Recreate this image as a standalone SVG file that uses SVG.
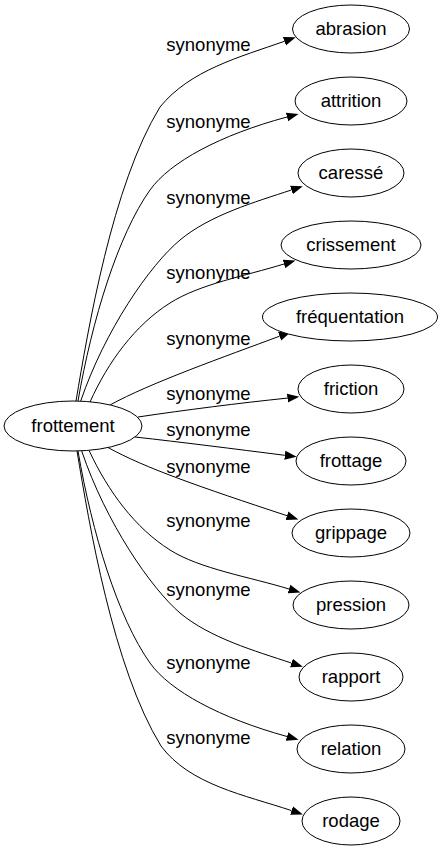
<svg xmlns="http://www.w3.org/2000/svg" width="441" height="851" viewBox="0 0 441 851">
<style>
text{font-family:"Liberation Sans",Arial,sans-serif;font-size:18.5px;fill:#000;text-anchor:middle}
ellipse{fill:#fff;stroke:#000;stroke-width:1}
.e path{fill:none;stroke:#000;stroke-width:1;marker-end:url(#arr)}
</style>
<defs>
<marker id="arr" markerUnits="userSpaceOnUse" viewBox="0 0 13 10" markerWidth="13" markerHeight="10" refX="0" refY="5" orient="auto">
<path d="M0,0.5 L12,5 L0,9.5 z" fill="#000"/>
</marker>
</defs>
<rect width="441" height="851" fill="#fff"/>
<g id="edges" class="e">
<path d="M76,401 C88,330 112,185 160,107 C190,70 240,57 284.4,41.3"/>
<path d="M78,401 C92,320 118,235 150,190 C170,162 220,135 287,117"/>
<path d="M80.7,401 C105,330 150,265 180,240 C210,215 255,202 291.4,190"/>
<path d="M90,402 C108,362 135,325 170,303 C200,284 245,276 284,264"/>
<path d="M110,405 C150,383 225,356.5 279.6,336.2"/>
<path d="M138,417 C185,410 240,403 287.4,398.1"/>
<path d="M135,437 C180,442 235,449 284.8,455.3"/>
<path d="M108,447.5 C145,468 200,487 287,515.7"/>
<path d="M89.3,451 C108,491 135,528 170,550 C200,569 250,577 289,589"/>
<path d="M81.7,451 C106,523 151,588 180,613 C210,638 255,651 291.4,663"/>
<path d="M78,451 C92,533 118,618 150,663 C170,691 220,718 287,736.5"/>
<path d="M77,451 C89,523 113,668 161,746 C190,785 245,795 291.5,810.6"/>
<text x="208.5" y="50.5">synonyme</text>
<text x="208.5" y="127.5">synonyme</text>
<text x="208.5" y="204">synonyme</text>
<text x="208.5" y="279">synonyme</text>
<text x="208.5" y="345">synonyme</text>
<text x="208.5" y="400">synonyme</text>
<text x="208.5" y="436">synonyme</text>
<text x="208.5" y="473">synonyme</text>
<text x="208.5" y="527">synonyme</text>
<text x="208.5" y="596">synonyme</text>
<text x="208.5" y="669">synonyme</text>
<text x="208.5" y="744">synonyme</text>
</g>
<g id="frottement"><ellipse cx="73" cy="426" rx="69" ry="25"/><text x="73" y="431.5">frottement</text></g>
<g id="abrasion"><ellipse cx="351" cy="29" rx="58.5" ry="24"/><text x="351" y="34.5">abrasion</text></g>
<g id="attrition"><ellipse cx="351" cy="101" rx="56" ry="24"/><text x="351" y="106.5">attrition</text></g>
<g id="caresse"><ellipse cx="351" cy="173" rx="53" ry="24"/><text x="351" y="178.5">caressé</text></g>
<g id="crissement"><ellipse cx="351" cy="245" rx="70" ry="24"/><text x="351" y="250.5">crissement</text></g>
<g id="frequentation"><ellipse cx="350" cy="317" rx="87.5" ry="24"/><text x="350" y="322.5">fréquentation</text></g>
<g id="friction"><ellipse cx="351" cy="389" rx="53" ry="24"/><text x="351" y="394.5">friction</text></g>
<g id="frottage"><ellipse cx="351" cy="461" rx="55" ry="24"/><text x="351" y="466.5">frottage</text></g>
<g id="grippage"><ellipse cx="351" cy="533" rx="59" ry="24"/><text x="351" y="538.5">grippage</text></g>
<g id="pression"><ellipse cx="351" cy="605" rx="58" ry="24"/><text x="351" y="610.5">pression</text></g>
<g id="rapport"><ellipse cx="351" cy="677" rx="52" ry="24"/><text x="351" y="682.5">rapport</text></g>
<g id="relation"><ellipse cx="351" cy="749" rx="54" ry="24"/><text x="351" y="754.5">relation</text></g>
<g id="rodage"><ellipse cx="351" cy="821" rx="49" ry="24"/><text x="351" y="826.5">rodage</text></g>
</svg>
